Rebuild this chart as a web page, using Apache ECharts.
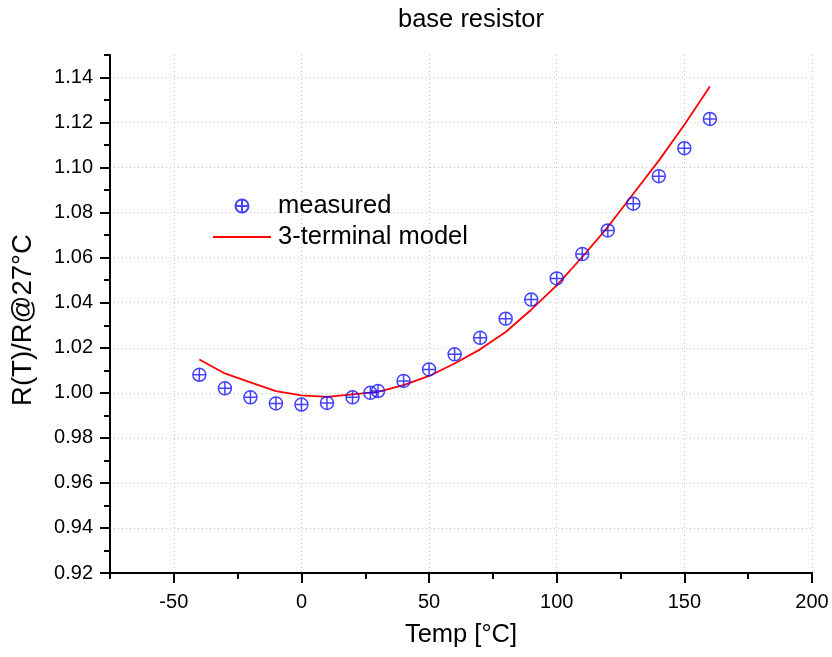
<!DOCTYPE html>
<html>
<head>
<meta charset="utf-8">
<script src="https://cdn.jsdelivr.net/npm/echarts@6/dist/echarts.min.js"></script>
<style>
  html, body { margin: 0; padding: 0; background: #fff; }
  #chart { width: 832px; height: 657px; }
</style>
</head>
<body>
<div id="chart"></div>
<script>
// measured points
const tempMeasured = [-40, -30, -20, -10, 0, 10, 20, 27, 30, 40, 50, 60, 70, 80, 90, 100, 110, 120, 130, 140, 150, 160];
const ratioMeasured = [1.008, 1.002, 0.998, 0.9953, 0.9948, 0.9955, 0.998, 1.000, 1.0008, 1.0053, 1.0104, 1.0171, 1.0244, 1.0329, 1.0414, 1.0508, 1.0616, 1.0721, 1.0840, 1.0962, 1.1086, 1.1216];

// 3-terminal model curve
const tempModel = [-40, -30, -20, -10, 0, 10, 20, 30, 40, 50, 60, 70, 80, 90, 100, 110, 120, 130, 140, 150, 160];
const ratioModel = [1.0148, 1.0086, 1.0046, 1.0008, 0.9989, 0.9982, 0.9993, 1.0004, 1.0034, 1.0075, 1.0130, 1.0193, 1.0270, 1.0369, 1.0477, 1.0603, 1.0736, 1.0884, 1.1031, 1.1190, 1.1360];

// ticks
const xMajorTicks = [-50, 0, 50, 100, 150, 200];
const xMinorTicks = [-75, -25, 25, 75, 125, 175];
const yMajorTicks = [0.92, 0.94, 0.96, 0.98, 1.00, 1.02, 1.04, 1.06, 1.08, 1.10, 1.12, 1.14];
const yMinorTicks = [0.93, 0.95, 0.97, 0.99, 1.01, 1.03, 1.05, 1.07, 1.09, 1.11, 1.13, 1.15];

const FONT = '"Liberation Sans", Arial, sans-serif';
const BLUE = '#1414ff';
const RED = '#ff0000';
const crossCircle = 'path://M0,-10 A10,10 0 1,1 0,10 A10,10 0 1,1 0,-10 Z M-10,0 L10,0 M0,-10 L0,10';
const lineIcon = 'path://M0,0 L58,0 L58,1.8 L0,1.8 Z';

const chart = echarts.init(document.getElementById('chart'));

const gridLine = { show: true, lineStyle: { color: '#c4c4c4', width: 1, type: [1, 3] } };

chart.setOption({
  animation: false,
  backgroundColor: '#fff',
  textStyle: { fontFamily: FONT },
  title: {
    text: 'base resistor',
    left: 393,
    top: 2,
    textStyle: { fontSize: 25.5, fontWeight: 'normal', color: '#000', fontFamily: FONT }
  },
  legend: {
    orient: 'vertical',
    left: 208,
    top: 188,
    itemWidth: 58,
    itemHeight: 13,
    itemGap: 5,
    textStyle: { fontSize: 25.5, color: '#000', fontFamily: FONT, padding: [0, 0, 0, 2] },
    data: [
      { name: 'measured' },
      { name: '3-terminal model', icon: lineIcon }
    ]
  },
  grid: { left: 110, right: 20, top: 55, bottom: 84 },
  xAxis: [
    {
      type: 'value',
      position: 'bottom',
      min: -75,
      max: 200,
      interval: 25,
      name: 'Temp [°C]',
      nameLocation: 'middle',
      nameGap: 49,
      nameTextStyle: { fontSize: 25.5, color: '#000', fontFamily: FONT },
      axisLine: { onZero: false, lineStyle: { color: '#000', width: 2 } },
      axisTick: { customValues: xMajorTicks, length: 10, lineStyle: { color: '#000', width: 2 } },
      axisLabel: { customValues: xMajorTicks, fontSize: 20, color: '#000', margin: 19, fontFamily: FONT },
      splitLine: gridLine
    },
    {
      type: 'value',
      position: 'bottom',
      min: -75,
      max: 200,
      interval: 25,
      axisLine: { show: false, onZero: false },
      axisTick: { customValues: xMinorTicks, length: 6, lineStyle: { color: '#000', width: 2 } },
      axisLabel: { show: false },
      splitLine: { show: false }
    }
  ],
  yAxis: [
    {
      type: 'value',
      position: 'left',
      min: 0.92,
      max: 1.15,
      interval: 0.02,
      name: 'R(T)/R@27°C',
      nameLocation: 'middle',
      nameGap: 73,
      nameTextStyle: { fontSize: 27.5, color: '#000', fontFamily: FONT, padding: [0, 12, 0, 0] },
      axisLine: { show: true, onZero: false, lineStyle: { color: '#000', width: 2 } },
      axisTick: { show: true, customValues: yMajorTicks, length: 10, lineStyle: { color: '#000', width: 2 } },
      axisLabel: {
        customValues: yMajorTicks, fontSize: 20, color: '#000', margin: 17, fontFamily: FONT,
        formatter: v => v.toFixed(2)
      },
      splitLine: gridLine
    },
    {
      type: 'value',
      position: 'left',
      min: 0.92,
      max: 1.15,
      interval: 0.02,
      axisLine: { show: false, onZero: false },
      axisTick: { show: true, customValues: yMinorTicks, length: 6, lineStyle: { color: '#000', width: 2 } },
      axisLabel: { show: false },
      splitLine: { show: false }
    }
  ],
  series: [
    {
      name: 'measured',
      type: 'scatter',
      symbol: crossCircle,
      symbolSize: 13,
      itemStyle: { color: 'rgba(0,0,0,0)', borderColor: BLUE, borderWidth: 1.5 },
      z: 3,
      data: tempMeasured.map((t, i) => [t, ratioMeasured[i]])
    },
    {
      name: '3-terminal model',
      type: 'line',
      symbol: 'none',
      showSymbol: false,
      lineStyle: { color: RED, width: 1.8 },
      itemStyle: { color: RED },
      z: 2,
      data: tempModel.map((t, i) => [t, ratioModel[i]])
    }
  ]
});
</script>
</body>
</html>
